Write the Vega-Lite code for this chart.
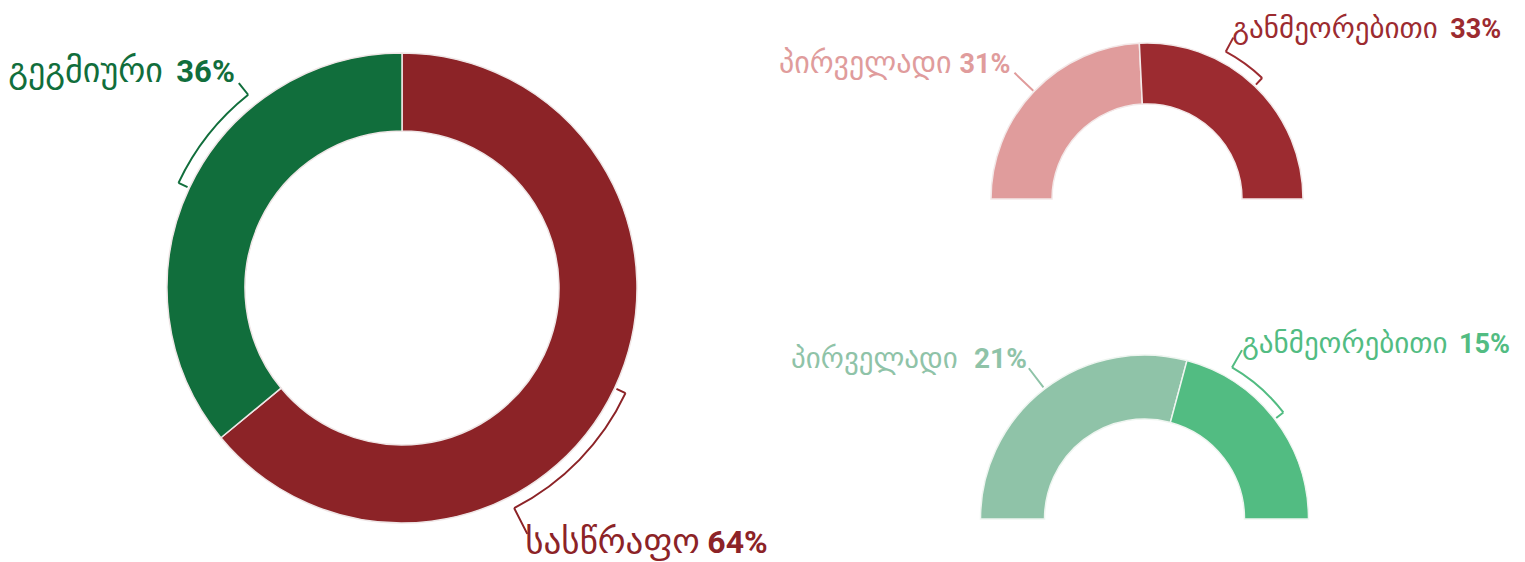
{
  "$schema": "https://vega.github.io/schema/vega-lite/v6.json",
  "padding": 0,
  "background": "white",
  "config": {"view": {"stroke": null}, "concat": {"spacing": 0}},
  "datasets": {
    "main_slices": [
      {"k": "სასწრაფო", "v": 64, "o": 1},
      {"k": "გეგმიური", "v": 36, "o": 2}
    ],
    "main_ann": [
      {"k": "სასწრაფო", "a": 32, "b": 42.5, "name": "სასწრაფო", "pct": "64%"},
      {"k": "გეგმიური", "a": 82, "b": 89.3, "name": "გეგმიური", "pct": "36%"}
    ],
    "top_slices": [
      {"k": "პირველადი", "v": 31, "o": 1},
      {"k": "განმეორებითი", "v": 33, "o": 2}
    ],
    "top_ann": [
      {"k": "პირველადი", "a": 15.5, "b": 15.5, "name": "პირველადი", "pct": "31%"},
      {"k": "განმეორებითი", "a": 47.5, "b": 42, "name": "განმეორებითი", "pct": "33%"}
    ],
    "bot_slices": [
      {"k": "პირველადი", "v": 21, "o": 1},
      {"k": "განმეორებითი", "v": 15, "o": 2}
    ],
    "bot_ann": [
      {"k": "პირველადი", "a": 10.5, "b": 10.5, "name": "პირველადი", "pct": "21%"},
      {"k": "განმეორებითი", "a": 28.5, "b": 24, "name": "განმეორებითი", "pct": "15%"}
    ]
  },
  "bounds": "flush",
  "spacing": 0,
  "resolve": {"scale": {"theta": "independent", "color": "independent"}},
  "hconcat": [
    {
      "width": 804,
      "height": 576,
      "layer": [
        {
          "data": {"name": "main_slices"},
          "mark": {"type": "arc", "radius": 235, "radius2": 157, "stroke": "#efe6e6", "strokeWidth": 1.5},
          "encoding": {
            "theta": {"field": "v", "type": "quantitative", "stack": true, "scale": {"domain": [0, 100], "range": [0, 6.283185307]}},
            "order": {"field": "o", "type": "quantitative"},
            "color": {"field": "k", "type": "nominal", "legend": null, "scale": {"domain": ["სასწრაფო", "გეგმიური"], "range": ["#8c2327", "#116e3c"]}}
          }
        },
        {
          "data": {"name": "main_ann"},
          "mark": {"type": "arc", "radius": 247, "radius2": 247, "filled": false, "strokeWidth": 2},
          "encoding": {
            "theta": {"field": "a", "type": "quantitative", "stack": null},
            "theta2": {"field": "b"},
            "color": {"field": "k", "type": "nominal", "legend": null}
          }
        },
        {
          "data": {"name": "main_ann"},
          "mark": {"type": "arc", "radius": 247, "radius2": 237, "filled": false, "strokeWidth": 2},
          "encoding": {
            "theta": {"field": "a", "type": "quantitative", "stack": null},
            "theta2": {"field": "a"},
            "color": {"field": "k", "type": "nominal", "legend": null}
          }
        },
        {
          "data": {"name": "main_ann"},
          "transform": [{"filter": "datum.k == 'სასწრაფო'"}],
          "mark": {"type": "arc", "radius": 276, "radius2": 247, "filled": false, "strokeWidth": 2},
          "encoding": {
            "theta": {"field": "b", "type": "quantitative", "stack": null},
            "theta2": {"field": "b"},
            "color": {"field": "k", "type": "nominal", "legend": null}
          }
        },
        {
          "data": {"name": "main_ann"},
          "transform": [{"filter": "datum.k == 'გეგმიური'"}],
          "mark": {"type": "arc", "radius": 262, "radius2": 247, "filled": false, "strokeWidth": 2},
          "encoding": {
            "theta": {"field": "b", "type": "quantitative", "stack": null},
            "theta2": {"field": "b"},
            "color": {"field": "k", "type": "nominal", "legend": null}
          }
        },
        {
          "data": {"name": "main_ann"},
          "transform": [{"filter": "datum.k == 'სასწრაფო'"}],
          "mark": {"type": "text", "radius": 276, "align": "left", "baseline": "alphabetic", "dx": -2, "dy": 19, "font": "DejaVu Sans", "fontSize": 35},
          "encoding": {
            "theta": {"field": "b", "type": "quantitative", "stack": null},
            "text": {"field": "name"},
            "color": {"field": "k", "type": "nominal", "legend": null}
          }
        },
        {
          "data": {"name": "main_ann"},
          "transform": [{"filter": "datum.k == 'სასწრაფო'"}],
          "mark": {"type": "text", "radius": 276, "align": "left", "baseline": "alphabetic", "dx": 180, "dy": 19, "font": "Roboto", "fontWeight": "bold", "fontSize": 32},
          "encoding": {
            "theta": {"field": "b", "type": "quantitative", "stack": null},
            "text": {"field": "pct"},
            "color": {"field": "k", "type": "nominal", "legend": null}
          }
        },
        {
          "data": {"name": "main_ann"},
          "transform": [{"filter": "datum.k == 'გეგმიური'"}],
          "mark": {"type": "text", "radius": 262, "align": "right", "baseline": "alphabetic", "dx": -76, "dy": -1, "font": "DejaVu Sans", "fontSize": 34},
          "encoding": {
            "theta": {"field": "b", "type": "quantitative", "stack": null},
            "text": {"field": "name"},
            "color": {"field": "k", "type": "nominal", "legend": null}
          }
        },
        {
          "data": {"name": "main_ann"},
          "transform": [{"filter": "datum.k == 'გეგმიური'"}],
          "mark": {"type": "text", "radius": 262, "align": "right", "baseline": "alphabetic", "dx": -4, "dy": -1, "font": "Roboto", "fontWeight": "bold", "fontSize": 31},
          "encoding": {
            "theta": {"field": "b", "type": "quantitative", "stack": null},
            "text": {"field": "pct"},
            "color": {"field": "k", "type": "nominal", "legend": null}
          }
        }
      ]
    },
    {
      "bounds": "flush",
      "spacing": 0,
      "resolve": {"scale": {"theta": "independent", "color": "independent"}},
      "vconcat": [
        {
          "width": 686,
          "height": 398,
          "layer": [
            {
              "data": {"name": "top_slices"},
              "mark": {"type": "arc", "radius": 156, "radius2": 95, "stroke": "#f3e8e8", "strokeWidth": 1.5},
              "encoding": {
                "theta": {"field": "v", "type": "quantitative", "stack": true, "scale": {"domain": [0, 64], "range": [-1.570796327, 1.570796327]}},
                "order": {"field": "o", "type": "quantitative"},
                "color": {"field": "k", "type": "nominal", "legend": null, "scale": {"domain": ["პირველადი", "განმეორებითი"], "range": ["#e09c9c", "#9c2b30"]}}
              }
            },
            {
              "data": {"name": "top_ann"},
              "transform": [{"filter": "datum.k == 'განმეორებითი'"}],
              "mark": {"type": "arc", "radius": 167, "radius2": 167, "filled": false, "strokeWidth": 2},
              "encoding": {
                "theta": {"field": "a", "type": "quantitative", "stack": null},
                "theta2": {"field": "b"},
                "color": {"field": "k", "type": "nominal", "legend": null}
              }
            },
            {
              "data": {"name": "top_ann"},
              "transform": [{"filter": "datum.k == 'განმეორებითი'"}],
              "mark": {"type": "arc", "radius": 167, "radius2": 158, "filled": false, "strokeWidth": 2},
              "encoding": {
                "theta": {"field": "a", "type": "quantitative", "stack": null},
                "theta2": {"field": "a"},
                "color": {"field": "k", "type": "nominal", "legend": null}
              }
            },
            {
              "data": {"name": "top_ann"},
              "transform": [{"filter": "datum.k == 'განმეორებითი'"}],
              "mark": {"type": "arc", "radius": 183, "radius2": 167, "filled": false, "strokeWidth": 2},
              "encoding": {
                "theta": {"field": "b", "type": "quantitative", "stack": null},
                "theta2": {"field": "b"},
                "color": {"field": "k", "type": "nominal", "legend": null}
              }
            },
            {
              "data": {"name": "top_ann"},
              "transform": [{"filter": "datum.k == 'პირველადი'"}],
              "mark": {"type": "arc", "radius": 183, "radius2": 157, "filled": false, "strokeWidth": 2},
              "encoding": {
                "theta": {"field": "b", "type": "quantitative", "stack": null},
                "theta2": {"field": "b"},
                "color": {"field": "k", "type": "nominal", "legend": null}
              }
            },
            {
              "data": {"name": "top_ann"},
              "transform": [{"filter": "datum.k == 'პირველადი'"}],
              "mark": {"type": "text", "radius": 183, "align": "right", "baseline": "alphabetic", "dx": -63, "dy": 0, "font": "DejaVu Sans", "fontSize": 30},
              "encoding": {
                "theta": {"field": "b", "type": "quantitative", "stack": null},
                "text": {"field": "name"},
                "color": {"field": "k", "type": "nominal", "legend": null}
              }
            },
            {
              "data": {"name": "top_ann"},
              "transform": [{"filter": "datum.k == 'პირველადი'"}],
              "mark": {"type": "text", "radius": 183, "align": "right", "baseline": "alphabetic", "dx": -4, "dy": 0, "font": "Roboto", "fontWeight": "bold", "fontSize": 27},
              "encoding": {
                "theta": {"field": "b", "type": "quantitative", "stack": null},
                "text": {"field": "pct"},
                "color": {"field": "k", "type": "nominal", "legend": null}
              }
            },
            {
              "data": {"name": "top_ann"},
              "transform": [{"filter": "datum.k == 'განმეორებითი'"}],
              "mark": {"type": "text", "radius": 183, "align": "left", "baseline": "alphabetic", "dx": -1, "dy": 0, "font": "DejaVu Sans", "fontSize": 29},
              "encoding": {
                "theta": {"field": "b", "type": "quantitative", "stack": null},
                "text": {"field": "name"},
                "color": {"field": "k", "type": "nominal", "legend": null}
              }
            },
            {
              "data": {"name": "top_ann"},
              "transform": [{"filter": "datum.k == 'განმეორებითი'"}],
              "mark": {"type": "text", "radius": 183, "align": "left", "baseline": "alphabetic", "dx": 217, "dy": 0, "font": "Roboto", "fontWeight": "bold", "fontSize": 27},
              "encoding": {
                "theta": {"field": "b", "type": "quantitative", "stack": null},
                "text": {"field": "pct"},
                "color": {"field": "k", "type": "nominal", "legend": null}
              }
            }
          ]
        },
        {
          "width": 681,
          "height": 242,
          "layer": [
            {
              "data": {"name": "bot_slices"},
              "mark": {"type": "arc", "radius": 164, "radius2": 100, "stroke": "#eef5f0", "strokeWidth": 1.5},
              "encoding": {
                "theta": {"field": "v", "type": "quantitative", "stack": true, "scale": {"domain": [0, 36], "range": [-1.570796327, 1.570796327]}},
                "order": {"field": "o", "type": "quantitative"},
                "color": {"field": "k", "type": "nominal", "legend": null, "scale": {"domain": ["პირველადი", "განმეორებითი"], "range": ["#8fc3a8", "#52bc82"]}}
              }
            },
            {
              "data": {"name": "bot_ann"},
              "transform": [{"filter": "datum.k == 'განმეორებითი'"}],
              "mark": {"type": "arc", "radius": 175, "radius2": 175, "filled": false, "strokeWidth": 2},
              "encoding": {
                "theta": {"field": "a", "type": "quantitative", "stack": null},
                "theta2": {"field": "b"},
                "color": {"field": "k", "type": "nominal", "legend": null}
              }
            },
            {
              "data": {"name": "bot_ann"},
              "transform": [{"filter": "datum.k == 'განმეორებითი'"}],
              "mark": {"type": "arc", "radius": 175, "radius2": 166, "filled": false, "strokeWidth": 2},
              "encoding": {
                "theta": {"field": "a", "type": "quantitative", "stack": null},
                "theta2": {"field": "a"},
                "color": {"field": "k", "type": "nominal", "legend": null}
              }
            },
            {
              "data": {"name": "bot_ann"},
              "transform": [{"filter": "datum.k == 'განმეორებითი'"}],
              "mark": {"type": "arc", "radius": 195, "radius2": 175, "filled": false, "strokeWidth": 2},
              "encoding": {
                "theta": {"field": "b", "type": "quantitative", "stack": null},
                "theta2": {"field": "b"},
                "color": {"field": "k", "type": "nominal", "legend": null}
              }
            },
            {
              "data": {"name": "bot_ann"},
              "transform": [{"filter": "datum.k == 'პირველადი'"}],
              "mark": {"type": "arc", "radius": 190, "radius2": 166, "filled": false, "strokeWidth": 2},
              "encoding": {
                "theta": {"field": "b", "type": "quantitative", "stack": null},
                "theta2": {"field": "b"},
                "color": {"field": "k", "type": "nominal", "legend": null}
              }
            },
            {
              "data": {"name": "bot_ann"},
              "transform": [{"filter": "datum.k == 'პირველადი'"}],
              "mark": {"type": "text", "radius": 190, "align": "right", "baseline": "alphabetic", "dx": -71, "dy": 0, "font": "DejaVu Sans", "fontSize": 29},
              "encoding": {
                "theta": {"field": "b", "type": "quantitative", "stack": null},
                "text": {"field": "name"},
                "color": {"field": "k", "type": "nominal", "legend": null}
              }
            },
            {
              "data": {"name": "bot_ann"},
              "transform": [{"filter": "datum.k == 'პირველადი'"}],
              "mark": {"type": "text", "radius": 190, "align": "right", "baseline": "alphabetic", "dx": -2, "dy": 0, "font": "Roboto", "fontWeight": "bold", "fontSize": 28},
              "encoding": {
                "theta": {"field": "b", "type": "quantitative", "stack": null},
                "text": {"field": "pct"},
                "color": {"field": "k", "type": "nominal", "legend": null}
              }
            },
            {
              "data": {"name": "bot_ann"},
              "transform": [{"filter": "datum.k == 'განმეორებითი'"}],
              "mark": {"type": "text", "radius": 195, "align": "left", "baseline": "alphabetic", "dx": 0, "dy": 3, "font": "DejaVu Sans", "fontSize": 29},
              "encoding": {
                "theta": {"field": "b", "type": "quantitative", "stack": null},
                "text": {"field": "name"},
                "color": {"field": "k", "type": "nominal", "legend": null}
              }
            },
            {
              "data": {"name": "bot_ann"},
              "transform": [{"filter": "datum.k == 'განმეორებითი'"}],
              "mark": {"type": "text", "radius": 195, "align": "left", "baseline": "alphabetic", "dx": 217, "dy": 3, "font": "Roboto", "fontWeight": "bold", "fontSize": 27},
              "encoding": {
                "theta": {"field": "b", "type": "quantitative", "stack": null},
                "text": {"field": "pct"},
                "color": {"field": "k", "type": "nominal", "legend": null}
              }
            }
          ]
        }
      ]
    }
  ]
}
